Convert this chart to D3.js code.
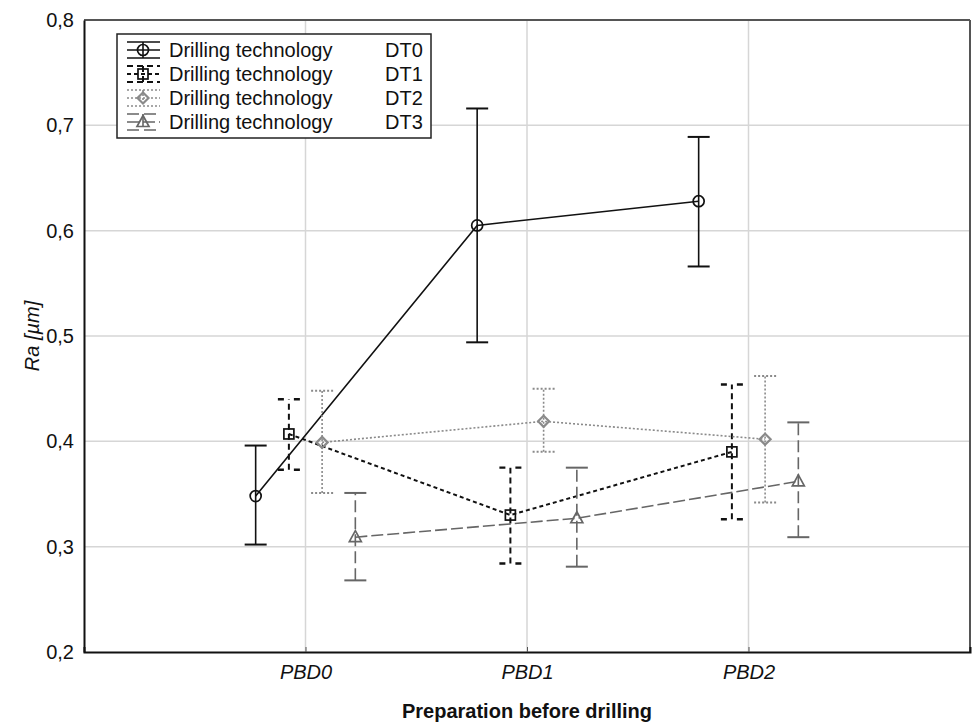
<!DOCTYPE html>
<html><head><meta charset="utf-8">
<script src="https://cdn.jsdelivr.net/npm/d3@7"></script>
<style>body{margin:0;background:#fff}svg{display:block;font-family:"Liberation Sans",Arial,sans-serif}</style>
</head><body><svg id="c" width="973" height="723"></svg>
<script>
const categories = ["PBD0","PBD1","PBD2"];
const seriesNames = ["DT0","DT1","DT2","DT3"];
const legendPrefix = "Drilling technology";
const dt0Mean = [0.348, 0.605, 0.628];
const dt0Low  = [0.302, 0.494, 0.566];
const dt0High = [0.396, 0.716, 0.689];
const dt1Mean = [0.407, 0.330, 0.390];
const dt1Low  = [0.373, 0.284, 0.326];
const dt1High = [0.440, 0.375, 0.454];
const dt2Mean = [0.399, 0.419, 0.402];
const dt2Low  = [0.351, 0.390, 0.342];
const dt2High = [0.448, 0.450, 0.462];
const dt3Mean = [0.309, 0.327, 0.362];
const dt3Low  = [0.268, 0.281, 0.309];
const dt3High = [0.351, 0.375, 0.418];
const yTicks = [0.2,0.3,0.4,0.5,0.6,0.7,0.8];
const offsets = [-0.225,-0.075,0.075,0.225];

const series = [
 {name:seriesNames[0], mean:dt0Mean, low:dt0Low, high:dt0High, color:"#111", dash:null, ebDash:null, capDash:null, w:1.6, sym:"circle"},
 {name:seriesNames[1], mean:dt1Mean, low:dt1Low, high:dt1High, color:"#111", dash:"4,3", ebDash:"6,4", capDash:"6,10", w:2, sym:"square"},
 {name:seriesNames[2], mean:dt2Mean, low:dt2Low, high:dt2High, color:"#8a8a8a", dash:"2,2", ebDash:"2,2", capDash:"2,2", w:1.6, sym:"diamond"},
 {name:seriesNames[3], mean:dt3Mean, low:dt3Low, high:dt3High, color:"#666", dash:"12,4", ebDash:"12,5", capDash:null, w:1.6, sym:"triangle"}
];

const L=84,R=970,T=20,B=652;
const svg=d3.select("#c");
const x=d3.scaleLinear().domain([-1,3]).range([L,R]);
const y=d3.scaleLinear().domain([0.2,0.8]).range([B,T]);
const fmt=d=>d3.format(".1f")(d).replace(".",",");

// gridlines
svg.append("g").selectAll("line").data(yTicks.slice(1,-1)).join("line")
 .attr("x1",L).attr("x2",R).attr("y1",d=>y(d)).attr("y2",d=>y(d))
 .attr("stroke","#d6d6d6").attr("stroke-width",1.5);
svg.append("g").selectAll("line").data(categories).join("line")
 .attr("x1",(d,i)=>x(i)).attr("x2",(d,i)=>x(i)).attr("y1",T).attr("y2",B)
 .attr("stroke","#d6d6d6").attr("stroke-width",1.5);

// frame
svg.append("line").attr("x1",L).attr("x2",R).attr("y1",T).attr("y2",T).attr("stroke","#555").attr("stroke-width",2);
svg.append("line").attr("x1",R).attr("x2",R).attr("y1",T).attr("y2",B).attr("stroke","#555").attr("stroke-width",2);

// axes
const yAxis=d3.axisLeft(y).tickValues(yTicks).tickFormat(fmt).tickSize(0).tickPadding(10);
const gy=svg.append("g").attr("transform",`translate(${L},0)`).call(yAxis);
gy.select(".domain").attr("stroke","#111").attr("stroke-width",2);
gy.selectAll("text").attr("font-size",20).attr("fill","#111").attr("font-family","Liberation Sans, Arial");
const xAxis=d3.axisBottom(x).tickValues([0,1,2]).tickFormat(i=>categories[i]).tickSize(-5).tickPadding(13);
const gx=svg.append("g").attr("transform",`translate(0,${B})`).call(xAxis);
gx.select(".domain").attr("stroke","#111").attr("stroke-width",2);
gx.selectAll(".tick line").attr("stroke","#555");
gx.selectAll("text").attr("font-size",20).attr("fill","#111").attr("font-style","italic").attr("font-family","Liberation Sans, Arial");

svg.append("text").attr("x",x(1)).attr("y",718).attr("text-anchor","middle")
 .attr("font-size",20).attr("font-weight","bold").attr("fill","#111").text("Preparation before drilling");
svg.append("text").attr("transform",`translate(39,${(T+B)/2}) rotate(-90)`).attr("text-anchor","middle")
 .attr("font-size",20).attr("font-style","italic").attr("fill","#111").text("Ra [µm]");

function drawSym(g,s,cx,cy){
  let el;
  if(s.sym==="circle") el=g.append("circle").attr("cx",cx).attr("cy",cy).attr("r",5.5);
  else if(s.sym==="square") el=g.append("rect").attr("x",cx-5).attr("y",cy-5).attr("width",10).attr("height",10);
  else if(s.sym==="diamond") el=g.append("path").attr("d",`M${cx},${cy-5.5}L${cx+5.5},${cy}L${cx},${cy+5.5}L${cx-5.5},${cy}Z`);
  else el=g.append("path").attr("d",`M${cx},${cy-6.5}L${cx+6},${cy+4.5}L${cx-6},${cy+4.5}Z`);
  el.attr("fill","none").attr("stroke",s.color).attr("stroke-width",s.sym==="diamond"?2.2:1.7);
}

const cap=11;
series.forEach((s,si)=>{
  const g=svg.append("g");
  const px=i=>x(i+offsets[si]);
  s.mean.forEach((m,i)=>{
    g.append("line").attr("x1",px(i)).attr("x2",px(i)).attr("y1",y(s.low[i])).attr("y2",y(s.high[i]))
     .attr("stroke",s.color).attr("stroke-width",s.w).attr("stroke-dasharray",s.ebDash);
    [s.low[i],s.high[i]].forEach(v=>{
      g.append("line").attr("x1",px(i)-cap).attr("x2",px(i)+cap).attr("y1",y(v)).attr("y2",y(v))
       .attr("stroke",s.color).attr("stroke-width",s.w+0.4).attr("stroke-dasharray",s.capDash);
    });
  });
  g.append("path").datum(s.mean).attr("fill","none").attr("stroke",s.color).attr("stroke-width",s.w)
   .attr("stroke-dasharray",s.dash)
   .attr("d",d3.line().x((d,i)=>px(i)).y(d=>y(d)));
  s.mean.forEach((m,i)=>drawSym(g,s,px(i),y(m)));
});

// legend
const lg=svg.append("g");
lg.append("rect").attr("x",117).attr("y",34).attr("width",314).attr("height",104)
 .attr("fill","#fff").attr("stroke","#222").attr("stroke-width",1.5);
series.forEach((s,i)=>{
  const cy=50+i*24, x0=127,x1=160,cx=143;
  const g=lg.append("g");
  g.append("line").attr("x1",x0).attr("x2",x1).attr("y1",cy).attr("y2",cy).attr("stroke",s.color).attr("stroke-width",s.w).attr("stroke-dasharray",s.dash);
  [cy-8,cy+8].forEach(yy=>g.append("line").attr("x1",x0).attr("x2",x1).attr("y1",yy).attr("y2",yy).attr("stroke",s.color).attr("stroke-width",s.w).attr("stroke-dasharray",s.ebDash));
  g.append("line").attr("x1",cx).attr("x2",cx).attr("y1",cy-8).attr("y2",cy+8).attr("stroke",s.color).attr("stroke-width",s.w).attr("stroke-dasharray",s.ebDash);
  drawSym(g,s,cx,cy);
  g.append("text").attr("x",169).attr("y",cy+7).attr("font-size",20).attr("fill","#111").text(legendPrefix);
  g.append("text").attr("x",385).attr("y",cy+7).attr("font-size",20).attr("fill","#111").text(s.name);
});
</script></body></html>
